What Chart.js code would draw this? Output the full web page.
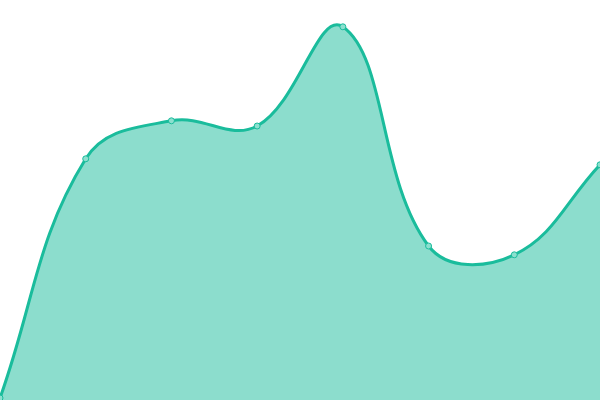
<!DOCTYPE html>
<html>
<head>
<meta charset="utf-8">
<script src="https://cdn.jsdelivr.net/npm/chart.js@4"></script>
<style>
  html, body { margin: 0; padding: 0; background: #fff; }
  #wrap { width: 600px; height: 400px; }
</style>
</head>
<body>
<div id="wrap"><canvas id="chart"></canvas></div>
<script>
// datos
const labels = ['1', '2', '3', '4', '5', '6', '7', '8'];
const values = [0.5, 60.3, 69.8, 68.5, 93.3, 38.5, 36.3, 58.8];
const yMin = 0;
const yMax = 100;

const lineColor = '#1abc9c';
const fillColor = 'rgba(26, 188, 156, 0.5)';

new Chart(document.getElementById('chart'), {
    type: 'line',
    data: {
        labels: labels,
        datasets: [{
            data: values,
            borderColor: lineColor,
            backgroundColor: fillColor,
            fill: true,
            tension: 0.4,
            borderWidth: 3,
            pointRadius: 3,
            pointBorderWidth: 1,
            pointBackgroundColor: 'rgba(140, 224, 207, 1)',
            pointBorderColor: lineColor
        }]
    },
    options: {
        responsive: true,
        maintainAspectRatio: false,
        animation: false,
        layout: { padding: 0, autoPadding: false },
        plugins: {
            legend: { display: false },
            tooltip: { enabled: false }
        },
        scales: {
            x: { display: false },
            y: { display: false, min: yMin, max: yMax }
        }
    }
});
</script>
</body>
</html>
